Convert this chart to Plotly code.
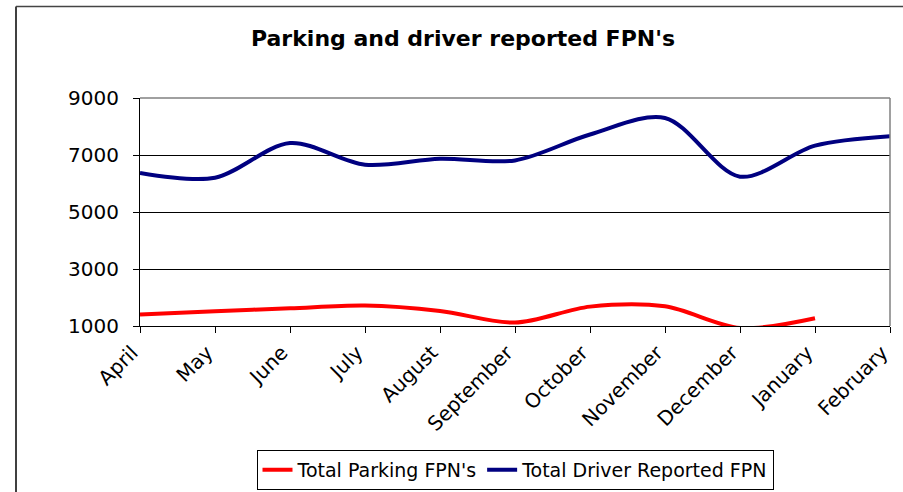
import plotly.graph_objects as go

months = ["April", "May", "June", "July", "August", "September",
          "October", "November", "December", "January", "February"]
parking_fpn = [1400, 1520, 1620, 1720, 1530, 1120, 1680, 1690, 930, 1270, None]
driver_fpn = [6370, 6200, 7420, 6660, 6870, 6810, 7720, 8300, 6240, 7330, 7660]
y_ticks = [1000, 3000, 5000, 7000, 9000]

FONT = "DejaVu Sans"
W, H = 903, 492
L, R, T, B = 140, 13, 98, 166
pw = W - L - R
ph = H - T - B

fig = go.Figure()
fig.add_trace(go.Scatter(
    x=months, y=parking_fpn, name="Total Parking FPN's", mode="lines",
    line=dict(color="#FF0000", width=4, shape="spline", smoothing=0.9),
    connectgaps=False, cliponaxis=False))
fig.add_trace(go.Scatter(
    x=months, y=driver_fpn, name="Total Driver Reported FPN", mode="lines",
    line=dict(color="#000080", width=4, shape="spline", smoothing=0.9)))

def px_x(x):
    return (x - L) / pw

def px_y(y):
    return (H - B - y) / ph

shapes = [
    # outer frame (left & top visible)
    dict(type="line", xref="paper", yref="paper", x0=px_x(16), x1=px_x(16),
         y0=px_y(6.5), y1=px_y(520), line=dict(color="black", width=1.5)),
    dict(type="line", xref="paper", yref="paper", x0=px_x(16), x1=px_x(920),
         y0=px_y(6.5), y1=px_y(6.5), line=dict(color="#444", width=1.5)),
    # plot area top/right border (gray)
    dict(type="line", xref="paper", yref="paper", x0=0, x1=1, y0=1, y1=1,
         line=dict(color="#808080", width=1.5)),
    dict(type="line", xref="paper", yref="paper", x0=1, x1=1, y0=0, y1=1,
         line=dict(color="#808080", width=1.5)),
]

fig.update_layout(
    width=W, height=H,
    margin=dict(l=L, r=R, t=T, b=B, autoexpand=False),
    paper_bgcolor="white", plot_bgcolor="white",
    font=dict(family=FONT, color="black", size=20),
    title=dict(text="<b>Parking and driver reported FPN's</b>",
               font=dict(family=FONT, size=22, color="black"),
               x=463 / W, xanchor="center", xref="container",
               y=1 - 38 / H, yanchor="middle", yref="container",
               automargin=False),
    xaxis=dict(type="category", range=[0, 10], showgrid=False,
               showline=True, linecolor="black", linewidth=1,
               ticks="outside", ticklen=6, tickcolor="black",
               tickangle=-45, tickfont=dict(size=20, family=FONT),
               ticklabelshift=-8, automargin=False,
               zeroline=False),
    yaxis=dict(range=[1000, 9000], tickvals=y_ticks,
               ticktext=[str(v) for v in y_ticks],
               showgrid=True, gridcolor="black", gridwidth=1,
               showline=True, linecolor="black", linewidth=1,
               ticks="outside", ticklen=6, tickcolor="black",
               ticklabelstandoff=10, automargin=False,
               tickfont=dict(size=20, family=FONT), zeroline=False),
    legend=dict(orientation="h", x=0.5, xanchor="center",
                y=px_y(450), yanchor="top",
                bordercolor="black", borderwidth=1, bgcolor="white",
                font=dict(size=19, family=FONT),
                itemwidth=30, tracegroupgap=0),
    shapes=shapes,
    showlegend=True,
)

fig.write_html(
    "out.html",
    config={"displayModeBar": False},
    post_script="document.body.style.margin='0px';"
                "document.body.style.overflow='hidden';",
)
